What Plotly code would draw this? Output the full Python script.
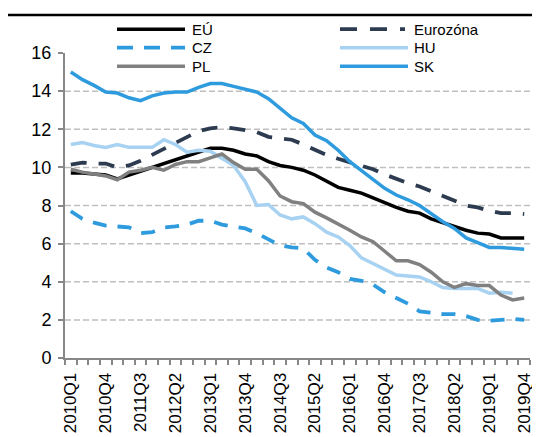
import plotly.graph_objects as go

years = list(range(2010, 2020))
quarters = [f"{y}Q{q}" for y in years for q in range(1, 5)]
label_every = 3

eu = [9.7, 9.7, 9.65, 9.6, 9.4, 9.6, 9.8, 10.0, 10.2, 10.4,
      10.6, 10.8, 11.0, 11.0, 10.9, 10.7, 10.6, 10.3, 10.1, 10.0,
      9.85, 9.6, 9.3, 8.95, 8.8, 8.65, 8.4, 8.15, 7.9, 7.7,
      7.6, 7.3, 7.1, 6.9, 6.7, 6.55, 6.5, 6.3, 6.3, 6.3]
ez = [10.15, 10.25, 10.2, 10.2, 10.0, 10.1, 10.35, 10.65, 10.95, 11.3,
      11.6, 11.9, 12.05, 12.1, 12.05, 11.95, 11.85, 11.6, 11.5, 11.45,
      11.2, 10.92, 10.65, 10.45, 10.27, 10.1, 9.9, 9.63, 9.4, 9.17,
      9.0, 8.75, 8.55, 8.25, 8.0, 7.9, 7.72, 7.6, 7.6, 7.55]
cz = [7.7, 7.3, 7.1, 6.95, 6.9, 6.85, 6.55, 6.6, 6.85, 6.9,
      7.0, 7.2, 7.2, 7.0, 6.9, 6.8, 6.55, 6.2, 5.9, 5.8,
      5.75, 5.15, 4.75, 4.5, 4.15, 4.05, 3.85, 3.45, 3.15, 2.85,
      2.45, 2.35, 2.3, 2.3, 2.2, 2.0, 1.95, 2.0, 2.05, 2.0]
hu = [11.2, 11.3, 11.15, 11.05, 11.2, 11.05, 11.05, 11.05, 11.45, 11.2,
      10.8, 10.9, 10.85, 10.5, 10.1, 9.25, 8.0, 8.05, 7.5, 7.3,
      7.4, 7.05, 6.6, 6.35, 5.9, 5.25, 4.95, 4.6, 4.35, 4.3,
      4.25, 4.0, 3.7, 3.65, 3.65, 3.65, 3.4, 3.45, 3.4, None]
pl = [9.9, 9.75, 9.65, 9.55, 9.35, 9.75, 9.85, 10.0, 9.85, 10.15,
      10.3, 10.3, 10.5, 10.7, 10.25, 9.9, 9.9, 9.3, 8.5, 8.2,
      8.1, 7.65, 7.35, 7.05, 6.7, 6.35, 6.1, 5.6, 5.1, 5.1,
      4.9, 4.5, 4.0, 3.7, 3.9, 3.8, 3.8, 3.3, 3.05, 3.15]
sk = [15.0, 14.6, 14.3, 13.95, 13.9, 13.65, 13.5, 13.75, 13.9, 13.95,
      13.95, 14.2, 14.4, 14.4, 14.25, 14.1, 13.95, 13.6, 13.1, 12.6,
      12.3, 11.7, 11.4, 10.9, 10.3, 9.85, 9.4, 8.9, 8.55, 8.3,
      8.0, 7.55, 7.15, 6.8, 6.3, 6.05, 5.8, 5.8, 5.75, 5.7]

y_ticks = [0, 2, 4, 6, 8, 10, 12, 14, 16]

series_names = ["EÚ", "Eurozóna", "CZ", "HU", "PL", "SK"]
series_vals = [eu, ez, cz, hu, pl, sk]
styles = {
    "EÚ": dict(color="#000000", width=3.5, dash="solid"),
    "Eurozóna": dict(color="#2C3B50", width=3.8, dash="16px,12px"),
    "CZ": dict(color="#2E9BDE", width=3.8, dash="14px,11px"),
    "HU": dict(color="#A8D2F1", width=3.5, dash="solid"),
    "PL": dict(color="#808080", width=3.5, dash="solid"),
    "SK": dict(color="#2E9BDE", width=3.5, dash="solid"),
}

W, H = 540, 437
L, R, T, B = 57, 522, 44.5, 358

FONT = "Liberation Sans, Arial, sans-serif"

fig = go.Figure()
for name, vals in zip(series_names, series_vals):
    fig.add_trace(go.Scatter(x=quarters, y=vals, mode="lines", name=name,
                             line=styles[name], showlegend=False,
                             connectgaps=False))

def px_x(p):
    return (p - L) / (R - L)

def px_y(p):
    return (B - p) / (B - T)

shapes = []
for v in y_ticks[1:-1]:
    shapes.append(dict(type="line", xref="paper", yref="y", x0=0, x1=1, y0=v, y1=v,
                       line=dict(color="#BFBFBF", width=1.5, dash="6px,3px"),
                       layer="below"))
shapes.append(dict(type="line", xref="paper", yref="paper",
                   x0=px_x(0), x1=px_x(530), y0=px_y(5.5), y1=px_y(5.5),
                   line=dict(color="#000000", width=2.5)))

legend_pos = {
    "EÚ": (109, 177, 20), "CZ": (109, 177, 39), "PL": (109, 177, 58),
    "Eurozóna": (332, 397, 20), "HU": (332, 400, 39), "SK": (332, 400, 58),
}
legend_dash = {"Eurozóna": "17px,13px", "CZ": "16px,11px"}
annotations = []
for name in series_names:
    x0, x1, yy = legend_pos[name]
    st = dict(styles[name])
    st["dash"] = legend_dash.get(name, "solid")
    shapes.append(dict(type="line", xref="paper", yref="paper",
                       x0=px_x(x0), x1=px_x(x1), y0=px_y(yy), y1=px_y(yy),
                       line=st))
    tx = 182 if x0 < 200 else 404
    annotations.append(dict(text=name, xref="paper", yref="paper",
                            x=px_x(tx), y=px_y(yy), xanchor="left", yanchor="middle",
                            showarrow=False,
                            font=dict(family=FONT, size=15, color="#000000")))

fig.update_layout(
    width=W, height=H,
    margin=dict(l=L, r=W - R, t=T, b=H - B),
    paper_bgcolor="white", plot_bgcolor="white",
    shapes=shapes, annotations=annotations,
    font=dict(family=FONT, size=17, color="#000000"),
    xaxis=dict(
        type="category", categoryorder="array", categoryarray=quarters,
        range=[-0.5, len(quarters) - 0.5],
        tickmode="array", tickvals=quarters,
        ticktext=[q if i % label_every == 0 else "" for i, q in enumerate(quarters)],
        tickson="boundaries", ticks="outside", ticklen=5, tickwidth=1.5,
        tickcolor="#888888", tickangle=-90, ticklabelstandoff=6,
        showline=True, linecolor="#888888", linewidth=2,
        showgrid=False, zeroline=False,
        tickfont=dict(family=FONT, size=17, color="#000000"),
    ),
    yaxis=dict(
        range=[0, 16], tickmode="array", tickvals=y_ticks,
        ticks="outside", ticklen=5, tickwidth=1.5, tickcolor="#888888",
        ticklabelstandoff=3,
        showline=True, linecolor="#888888", linewidth=2,
        showgrid=False, zeroline=False,
        tickfont=dict(family=FONT, size=18, color="#000000"),
    ),
)

fig.write_html("out.html")
